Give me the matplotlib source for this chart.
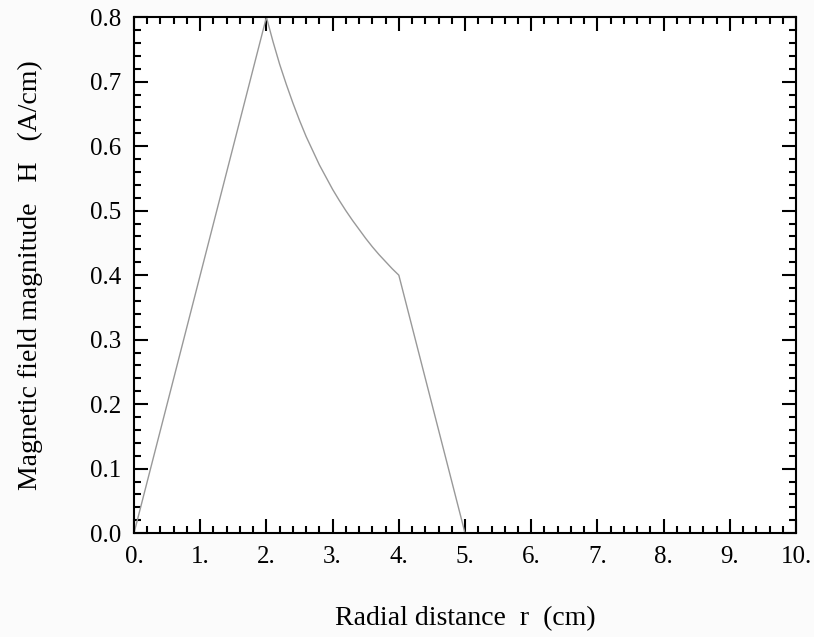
import matplotlib
matplotlib.use('Agg')
import matplotlib.pyplot as plt
from matplotlib.ticker import MultipleLocator, FuncFormatter

# values
r_cm = [0.0, 2.0, 2.1, 2.2, 2.3, 2.4, 2.5, 2.6, 2.7, 2.8, 2.9, 3.0,
        3.1, 3.2, 3.3, 3.4, 3.5, 3.6, 3.7, 3.8, 3.9, 4.0, 5.0, 10.0]
H_Acm = [0.0, 0.8, 0.762, 0.727, 0.696, 0.667, 0.64, 0.615, 0.593, 0.571,
         0.552, 0.533, 0.516, 0.5, 0.485, 0.471, 0.457, 0.444, 0.432, 0.421,
         0.41, 0.4, 0.0, 0.0]

plt.rcParams['font.family'] = ['Liberation Serif', 'DejaVu Serif']

fig = plt.figure(figsize=(8.14, 6.37), dpi=100)
ax = fig.add_axes([0.1646, 0.163, 0.8134, 0.810])

ax.plot(r_cm, H_Acm, color='#999999', lw=1.0)

ax.set_xlim(0, 10)
ax.set_ylim(0, 0.8)
ax.xaxis.set_major_locator(MultipleLocator(1))
ax.xaxis.set_minor_locator(MultipleLocator(0.2))
ax.yaxis.set_major_locator(MultipleLocator(0.1))
ax.yaxis.set_minor_locator(MultipleLocator(0.02))
ax.xaxis.set_major_formatter(FuncFormatter(lambda v, p: '%d.' % round(v)))
ax.yaxis.set_major_formatter(FuncFormatter(lambda v, p: '%.1f' % v))

ax.tick_params(which='both', direction='in', top=True, right=True,
               labelsize=18, colors='black')
ax.tick_params(which='major', length=10, width=1.5, pad=9)
ax.tick_params(which='minor', length=5, width=1.5)
for sp in ax.spines.values():
    sp.set_linewidth(1.5)

ax.set_xlabel('Radial distance  r  (cm)', fontsize=20, labelpad=28)
ax.set_ylabel('Magnetic field magnitude   H   (A/cm)', fontsize=20, labelpad=34)

fig.savefig('out.png', dpi=100, facecolor='#fbfbfb')
